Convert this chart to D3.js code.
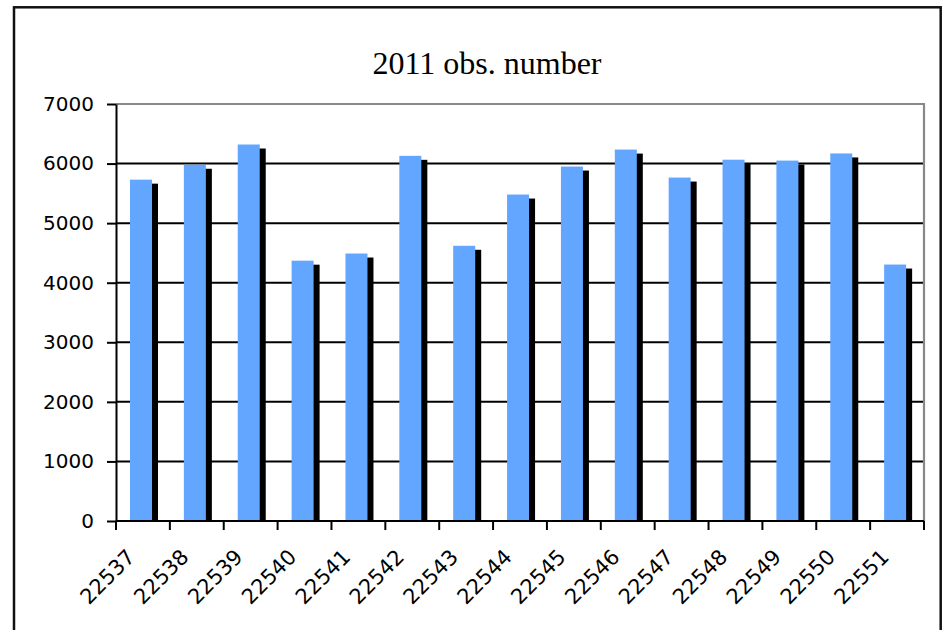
<!DOCTYPE html>
<html>
<head>
<meta charset="utf-8">
<script src="https://cdn.jsdelivr.net/npm/d3@7"></script>
<style>
  body { margin: 0; background: #fff; }
  svg { display: block; }
</style>
</head>
<body>
<div id="chart"></div>
<script>
// station ids on the x axis
const stations = ["22537", "22538", "22539", "22540", "22541", "22542", "22543", "22544",
    "22545", "22546", "22547", "22548", "22549", "22550", "22551"];
// number of observations in 2011
const obsCount = [5730, 5980, 6320, 4370, 4490, 6130, 4620, 5480,
    5950, 6235, 5765, 6065, 6050, 6170, 4305];
const yTicks = [0, 1000, 2000, 3000, 4000, 5000, 6000, 7000];
const chartTitle = "2011 obs. number";

const W = 948, H = 630;
const margin = { top: 104, right: 24, bottom: 109, left: 116 },
    width = W - margin.left - margin.right,
    height = H - margin.top - margin.bottom;

const svg = d3.select("#chart")
    .append("svg")
    .attr("width", W)
    .attr("height", H);

svg.append("rect").attr("width", W).attr("height", H).attr("fill", "#fff");

// outer frame of the chart object
svg.append("rect")
    .attr("x", 14).attr("y", 7.3)
    .attr("width", 926.7).attr("height", 660)
    .attr("fill", "none")
    .attr("stroke", "#111")
    .attr("stroke-width", 2.5);

// title
svg.append("text")
    .attr("x", 487)
    .attr("y", 74)
    .attr("text-anchor", "middle")
    .style("font-family", "'Liberation Serif', 'Times New Roman', serif")
    .style("font-size", "32px")
    .attr("fill", "#000")
    .text(chartTitle);

const g = svg.append("g")
    .attr("transform", `translate(${margin.left},${margin.top})`);

const x = d3.scaleBand()
    .domain(stations)
    .range([0, width]);

const y = d3.scaleLinear()
    .domain([0, 7000])
    .range([height, 0]);

// gridlines
g.append("g")
    .selectAll("line")
    .data(yTicks.filter(d => d > 0 && d < 7000))
    .join("line")
    .attr("x1", 0).attr("x2", width)
    .attr("y1", d => y(d)).attr("y2", d => y(d))
    .attr("stroke", "#000")
    .attr("stroke-width", 2);

// plot area border (top + right in grey)
g.append("path")
    .attr("d", `M0,${y(7000)}H${width}V${height}`)
    .attr("fill", "none")
    .attr("stroke", "#888")
    .attr("stroke-width", 2.2);

const bw = 22, bx = 14, sx = 6, sy = 4;

// shadows
g.append("g")
    .selectAll("rect")
    .data(obsCount)
    .join("rect")
    .attr("x", (d, i) => x(stations[i]) + bx + sx)
    .attr("y", d => y(d) + sy)
    .attr("width", bw)
    .attr("height", d => height - y(d) - sy)
    .attr("fill", "#000");

// bars
g.append("g")
    .selectAll("rect")
    .data(obsCount)
    .join("rect")
    .attr("x", (d, i) => x(stations[i]) + bx)
    .attr("y", d => y(d))
    .attr("width", bw)
    .attr("height", d => height - y(d))
    .attr("fill", "#63A6FF");

// Y axis
const yAxis = g.append("g")
    .call(d3.axisLeft(y).tickValues(yTicks).tickFormat(d3.format("d")).tickSize(9).tickSizeOuter(0).tickPadding(13));
yAxis.select(".domain").attr("stroke", "#000").attr("stroke-width", 2);
yAxis.selectAll(".tick line").attr("stroke", "#000").attr("stroke-width", 2);
yAxis.selectAll("text")
    .style("font-family", "'DejaVu Sans', Verdana, sans-serif")
    .style("font-size", "20px")
    .attr("fill", "#000");

// X axis: ticks between categories
const xAxisG = g.append("g").attr("transform", `translate(0,${height})`);
xAxisG.append("line")
    .attr("x1", 0).attr("x2", width)
    .attr("stroke", "#000").attr("stroke-width", 2);
xAxisG.selectAll(".xtick")
    .data(d3.range(stations.length + 1))
    .join("line")
    .attr("class", "xtick")
    .attr("x1", i => i * x.step()).attr("x2", i => i * x.step())
    .attr("y1", 0).attr("y2", 9)
    .attr("stroke", "#000").attr("stroke-width", 2);

xAxisG.selectAll(".xlabel")
    .data(stations)
    .join("text")
    .attr("class", "xlabel")
    .attr("transform", d => `translate(${x(d) + x.bandwidth() / 2 - 12},${32}) rotate(-45)`)
    .attr("text-anchor", "end")
    .attr("dy", "0.35em")
    .style("font-family", "'DejaVu Sans', Verdana, sans-serif")
    .style("font-size", "21px")
    .attr("fill", "#000")
    .text(d => d);
</script>
</body>
</html>
